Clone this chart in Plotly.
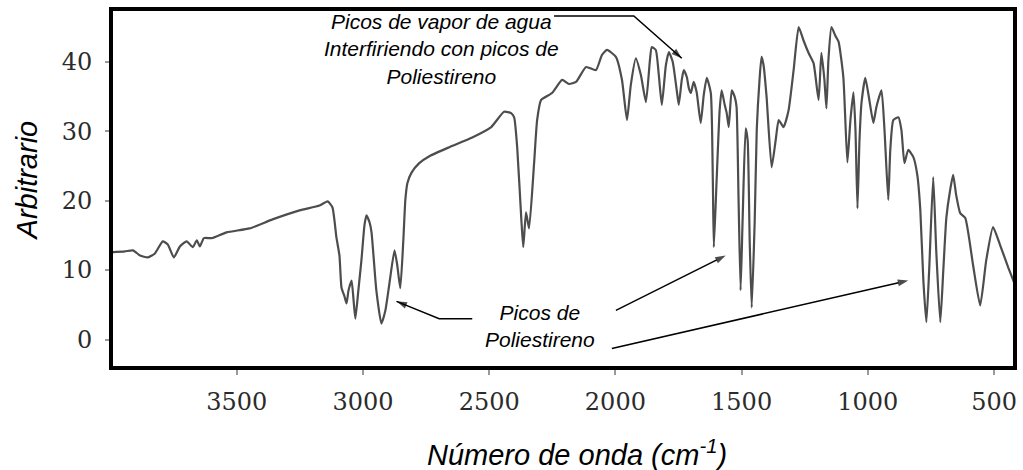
import plotly.graph_objects as go

# FTIR spectrum of a polystyrene film (wavenumber in cm^-1, arbitrary intensity)
wavenumber = [
    4002, 3943, 3911, 3883, 3852, 3824, 3793, 3773, 3749, 3725, 3698, 3674, 3658, 3646, 3630, 3599,
    3540, 3449, 3358, 3251, 3172, 3140, 3121, 3105, 3093, 3085, 3073, 3065, 3057, 3045, 3037, 3030,
    3018, 3006, 2994, 2986, 2974, 2966, 2947, 2927, 2911, 2895, 2875, 2864, 2852, 2840, 2832, 2824,
    2808, 2777, 2737, 2658, 2567, 2492, 2441, 2413, 2401, 2389, 2373, 2365, 2354, 2342, 2322, 2310,
    2294, 2251, 2211, 2184, 2156, 2116, 2077, 2053, 2033, 1998, 1974, 1954, 1939, 1919, 1899, 1879,
    1863, 1856, 1840, 1828, 1816, 1800, 1788, 1773, 1757, 1749, 1737, 1729, 1717, 1709, 1701, 1690,
    1678, 1662, 1650, 1638, 1622, 1614, 1610, 1599, 1587, 1579, 1567, 1559, 1551, 1539, 1527, 1520,
    1512, 1504, 1496, 1484, 1476, 1468, 1460, 1448, 1440, 1429, 1421, 1413, 1401, 1381, 1365, 1353,
    1334, 1314, 1294, 1274, 1255, 1235, 1215, 1195, 1184, 1172, 1164, 1156, 1144, 1128, 1116, 1097,
    1081, 1069, 1057, 1049, 1041, 1033, 1025, 1010, 994, 978, 966, 946, 934, 919, 911, 899,
    879, 867, 855, 840, 820, 804, 792, 780, 768, 757, 741, 729, 713, 701, 689, 674,
    662, 650, 634, 614, 583, 555, 531, 504, 476, 444, 413,
]
intensity = [
    12.55, 12.7, 12.84, 12.1, 11.83, 12.4, 14.14, 13.7, 11.83, 13.4, 14.14, 13.3, 14.3, 13.4, 14.6, 14.6,
    15.44, 16.0, 17.3, 18.6, 19.3, 19.9, 19.05, 14.7, 12.1, 7.5, 6.2, 5.2, 7.1, 8.5, 5.6, 3.0,
    7.1, 11.4, 16.45, 17.9, 16.9, 15.44, 7.1, 2.3, 4.2, 8.1, 12.84, 10.7, 7.4, 14.3, 20.1, 22.5,
    24.0, 25.4, 26.4, 27.7, 29.1, 30.6, 32.8, 32.6, 32.0, 27.7, 17.6, 13.3, 18.3, 16.0, 25.4, 31.6,
    34.5, 35.5, 37.4, 36.8, 37.1, 39.25, 38.8, 41.0, 41.7, 40.7, 37.4, 31.6, 36.65, 40.5, 38.1, 34.2,
    40.3, 42.1, 41.7, 38.1, 33.8, 39.5, 41.4, 40.0, 35.9, 33.8, 37.4, 38.8, 37.8, 36.2, 35.5, 37.1,
    35.6, 31.2, 35.2, 37.7, 35.5, 22.9, 13.3, 22.9, 33.0, 35.9, 33.8, 32.6, 30.6, 35.9, 34.9, 33.5,
    20.1, 7.1, 17.2, 30.4, 28.7, 14.3, 4.6, 17.2, 30.2, 37.4, 40.7, 39.5, 34.9, 24.8, 28.7, 31.6,
    30.6, 33.0, 38.8, 45.0, 43.1, 41.3, 39.8, 34.5, 41.3, 37.4, 33.3, 40.3, 45.0, 43.7, 42.9, 37.8,
    25.5, 31.6, 35.6, 30.2, 18.9, 28.7, 34.1, 37.7, 34.5, 31.2, 33.5, 35.9, 30.2, 20.1, 27.3, 31.6,
    32.0, 30.2, 25.4, 27.3, 26.3, 23.7, 18.6, 8.5, 2.5, 10.0, 23.4, 12.8, 2.5, 10.0, 17.5, 21.5,
    23.7, 20.8, 18.2, 17.5, 10.7, 4.9, 11.4, 16.2, 13.6, 10.4, 7.5,
]

x_ticks = [3500, 3000, 2500, 2000, 1500, 1000, 500]
y_ticks = [0, 10, 20, 30, 40]
x_range = [3998, 417]
y_range = [-4.1, 47.6]

# Pointer paths (wavenumber, intensity); the last point of each is the arrow tip
pointer_water_x = [2243, 1927, 1737]
pointer_water_y = [46.6, 46.6, 40.5]
pointer_ch_x = [2567, 2698, 2867]
pointer_ch_y = [3.0, 3.0, 5.5]
pointer_ring_x = [1998, 1563]
pointer_ring_y = [4.2, 12.1]
pointer_oop_x = [2014, 840]
pointer_oop_y = [-1.3, 8.5]

ARROW = "black"
TXT_FONT = dict(family="Liberation Sans, Arial, sans-serif", size=21, color="black")

fig = go.Figure()
fig.add_trace(go.Scatter(
    x=wavenumber, y=intensity, mode="lines",
    line=dict(color="#4d4d4d", width=2.2, shape="spline", smoothing=0.5),
    hoverinfo="skip", showlegend=False,
))

# Pointers: line segments ending in an arrowhead oriented along the last segment
for px, py in [(pointer_water_x, pointer_water_y), (pointer_ch_x, pointer_ch_y),
               (pointer_ring_x, pointer_ring_y), (pointer_oop_x, pointer_oop_y)]:
    n = len(px)
    fig.add_trace(go.Scatter(
        x=px, y=py, mode="lines+markers",
        line=dict(color=ARROW, width=1.5),
        marker=dict(symbol="arrow", angleref="previous", color=ARROW,
                    size=[0] * (n - 1) + [11], line=dict(width=0)),
        hoverinfo="skip", showlegend=False, cliponaxis=False,
    ))

fig.add_annotation(x=2690, y=41.8, xref="x", yref="y", showarrow=False,
                   text="<i>Picos de vapor de agua<br>Interfiriendo con picos de<br>Poliestireno</i>",
                   font=TXT_FONT, align="center")
fig.add_annotation(x=2298, y=2.0, xref="x", yref="y", showarrow=False,
                   text="<i>Picos de<br>Poliestireno</i>",
                   font=TXT_FONT, align="center")

# Axis titles
fig.add_annotation(x=0.515, y=-0.2357, xref="paper", yref="paper", showarrow=False,
                   text="<i>Número de onda (cm<sup>-1</sup>)</i>",
                   font=dict(family="Liberation Sans, Arial, sans-serif", size=29, color="black"),
                   xanchor="center", yanchor="middle")
fig.add_annotation(x=-0.0927, y=0.523, xref="paper", yref="paper", showarrow=False,
                   text="<i>Arbitrario</i>", textangle=-90,
                   font=dict(family="Liberation Sans, Arial, sans-serif", size=29, color="black"),
                   xanchor="center", yanchor="middle")

# Heavy frame round the plotting area
fig.add_shape(type="rect", xref="paper", yref="paper", x0=0, y0=0, x1=1, y1=1,
              line=dict(color="black", width=4), layer="above")

tick_font = dict(family="DejaVu Serif, serif", size=24, color="#2b2b2b")
fig.update_xaxes(range=x_range, tickvals=x_ticks, ticktext=[str(v) for v in x_ticks],
                 ticks="outside", ticklen=6, tickwidth=1.5, tickcolor="#999999",
                 tickfont=tick_font, showgrid=False, zeroline=False, showline=False,
                 ticklabelstandoff=6)
fig.update_yaxes(range=y_range, tickvals=y_ticks, ticktext=[str(v) for v in y_ticks],
                 ticks="outside", ticklen=5, tickwidth=1.5, tickcolor="#999999",
                 tickfont=tick_font, showgrid=False, zeroline=False, showline=False,
                 ticklabelstandoff=8)

fig.update_layout(
    width=1023, height=470,
    margin=dict(l=111, r=6, t=9, b=102, pad=0),
    plot_bgcolor="white", paper_bgcolor="white",
    showlegend=False,
)

fig.write_html("out.html")
